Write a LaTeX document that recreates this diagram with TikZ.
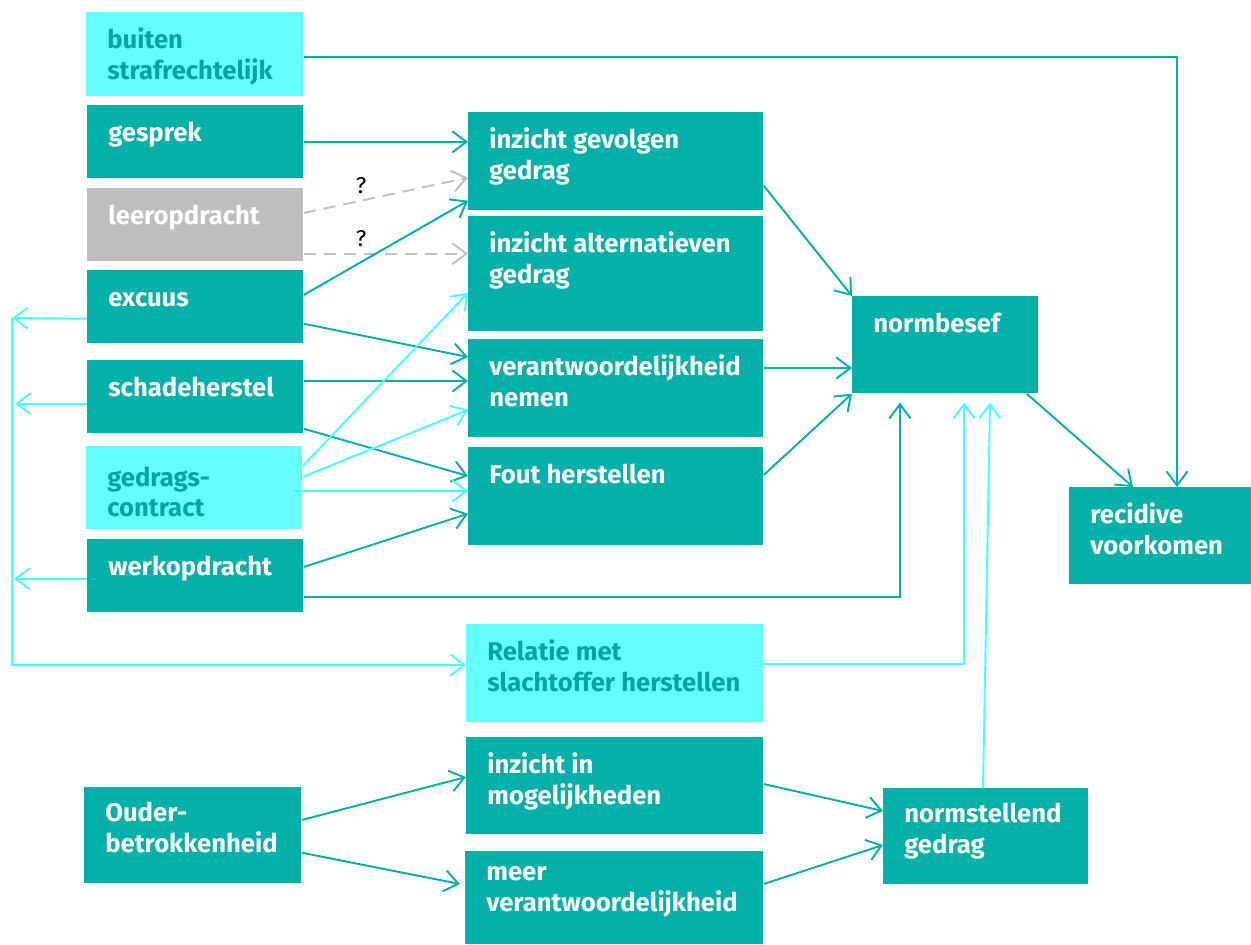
\documentclass[tikz,border=0pt]{standalone}
\usepackage{fontspec}
\setmainfont{Fira Sans}
\usetikzlibrary{arrows.meta, calc}
\definecolor{tealbox}{RGB}{5,176,168}
\definecolor{cyanbox}{RGB}{102,255,255}
\definecolor{cyanline}{RGB}{70,255,255}
\definecolor{tealtext}{RGB}{6,166,158}
\definecolor{greybox}{RGB}{190,190,190}
\definecolor{greyline}{RGB}{192,192,192}
\begin{document}
\begin{tikzpicture}[
      x = 0.02cm, y = -0.02cm,
      font = \fontsize{14.6}{17.6}\selectfont\bfseries,
      box/.style 2 args = {
        rectangle,
        anchor = north west,
        inner sep = 0,
        minimum width = #1*0.02cm,
        minimum height = #2*0.02cm,
      },
      txt/.style = {
        anchor = north west,
        inner sep = 0,
        align = left,
        execute at begin node = \rule{0pt}{12pt},
        xshift = 0.42cm,
        yshift = -8.5pt,
      },
      dark/.style = {fill = tealbox, label = {[txt, text = white]north west:#1}},
      light/.style = {fill = cyanbox, label = {[txt, text = tealtext]north west:#1}},
      grey/.style = {fill = greybox, label = {[txt, text = white]north west:#1}},
      link/.style = {
        draw = tealbox, line width = 1.1pt,
        -{Straight Barb[length = 8pt, width = 12pt]},
      },
      feed/.style = {
        draw = cyanline, line width = 1.1pt,
        -{Straight Barb[length = 8pt, width = 12pt]},
      },
      query/.style = {
        draw = greyline, line width = 1.1pt,
        dash pattern = on 7pt off 4.5pt,
        -{Straight Barb[length = 8pt, width = 12pt]},
      },
      ask/.style = {
        font = \fontsize{13}{15}\selectfont,
        text = black,
        above = 0pt,
        pos = .35,
      }
    ]
    \useasboundingbox (0,0) rectangle (1251,944);

    % left column
    \node[box = {217}{84}, light = {buiten\\strafrechtelijk}] (buiten) at (86,12) {};
    \node[box = {216}{73}, dark = {gesprek}] (gesprek) at (87,105) {};
    \node[box = {216}{73}, grey = {leeropdracht}] (leer) at (87,188) {};
    \node[box = {216}{73}, dark = {excuus}] (excuus) at (87,270) {};
    \node[box = {216}{73}, dark = {schadeherstel}] (schade) at (87,360) {};
    \node[box = {216}{83}, fill = cyanbox,
      label = {[txt, text = tealtext, yshift = -3pt]north west:{gedrags-\\contract}}] (gedrags) at (86,446) {};
    \node[box = {216}{73}, dark = {werkopdracht}] (werk) at (87,539) {};
    \node[box = {217}{96}, dark = {Ouder-\\betrokkenheid}] (ouder) at (84,787) {};

    % middle column
    \node[box = {295}{98}, dark = {inzicht gevolgen\\gedrag}] (gevolgen) at (468,112) {};
    \node[box = {295}{115}, dark = {inzicht alternatieven\\gedrag}] (altern) at (468,216) {};
    \node[box = {295}{98}, dark = {verantwoordelijkheid\\nemen}] (verantw) at (468,339) {};
    \node[box = {295}{98}, dark = {Fout herstellen}] (fout) at (468,447) {};
    \node[box = {297}{98}, light = {Relatie met\\slachtoffer herstellen}] (relatie) at (466,624) {};
    \node[box = {297}{97}, dark = {inzicht in\\mogelijkheden}] (mogelijk) at (466,737) {};
    \node[box = {298}{93}, dark = {meer\\verantwoordelijkheid}] (meer) at (465,851) {};

    % right column
    \node[box = {186}{97}, dark = {normbesef}] (normbesef) at (852,296) {};
    \node[box = {182}{97}, dark = {recidive\\voorkomen}] (recidive) at (1069,487) {};
    \node[box = {205}{96}, dark = {normstellend\\gedrag}] (normst) at (883,788) {};

    \coordinate (lft) at (12,318);
    \coordinate (nb1) at ($(normbesef.south west)+(48,9)$);
    \coordinate (nb2) at ($(normbesef.south west)+(112,9)$);
    \coordinate (nb3) at ($(normbesef.south west)+(138,9)$);

    % into the middle column
    \draw[link] (gesprek.east) -- (gesprek.east -| gevolgen.west);
    \draw[query] ($(leer.north east)+(0,25)$) -- node[ask] {?} ($(gevolgen.south west)+(0,-33)$);
    \draw[query] ($(leer.south east)+(0,-8)$) -- node[ask] {?} ($(altern.west |- leer.south east)+(0,-8)$);
    \draw[link] ($(excuus.north east)+(0,25)$) -- ($(gevolgen.south west)+(0,-10)$);
    \draw[link] ($(excuus.south east)+(0,-20)$) -- ($(verantw.north west)+(0,18)$);
    \draw[link] ($(schade.north east)+(0,21)$) -- ($(verantw.west |- schade.north east)+(0,21)$);
    \draw[link] ($(schade.south east)+(0,-5)$) -- ($(fout.north west)+(0,29)$);
    \draw[feed] ($(gedrags.north east)+(0,20)$) -- ($(altern.south west)+(0,-39)$);
    \draw[feed] ($(gedrags.north east)+(0,31)$) -- ($(verantw.south west)+(0,-28)$);
    \draw[feed] ($(gedrags.north east)+(-9,45)$) -- ($(fout.west |- gedrags.north east)+(0,45)$);
    \draw[link] ($(werk.north east)+(0,28)$) -- ($(fout.south west)+(0,-32)$);
    \draw[link] ($(werk.south east)+(0,-16)$) -| (nb1);

    % back to the victim
    \draw[feed] ($(excuus.south west)+(0,-25)$) -- (lft);
    \draw[feed] ($(schade.south west)+(0,-30)$) -- ($(lft |- schade.south west)+(3,-30)$);
    \draw[feed] ($(werk.south west)+(0,-34)$) -- ($(lft |- werk.south west)+(2,-34)$);
    \draw[feed] (lft) |- ($(relatie.north west)+(0,41)$);

    % into normbesef and recidive
    \draw[link] ($(gevolgen.south east)+(0,-25)$) -- (normbesef.north west);
    \draw[link] ($(verantw.north east)+(0,29)$) -- ($(normbesef.west |- verantw.north east)+(0,29)$);
    \draw[link] ($(fout.north east)+(0,28)$) -- (normbesef.south west);
    \draw[feed] ($(relatie.north east)+(0,40)$) -| (nb2);
    \draw[feed] ($(normst.north west)+(100,0)$) -- (nb3);
    \draw[link] ($(normbesef.south east)+(-12,0)$) -- ($(recidive.north west)+(64,0)$);
    \draw[link] ($(buiten.north east)+(0,45)$) -| ($(recidive.north west)+(108,0)$);

    % parents
    \draw[link] ($(ouder.north east)+(0,33)$) -- ($(mogelijk.north west)+(0,40)$);
    \draw[link] ($(ouder.south east)+(0,-31)$) -- ($(meer.north west)+(-5,33)$);
    \draw[link] ($(mogelijk.north east)+(0,47)$) -- ($(normst.north west)+(0,23)$);
    \draw[link] ($(meer.north east)+(0,33)$) -- ($(normst.north west)+(0,57)$);
  \end{tikzpicture}
\end{document}
